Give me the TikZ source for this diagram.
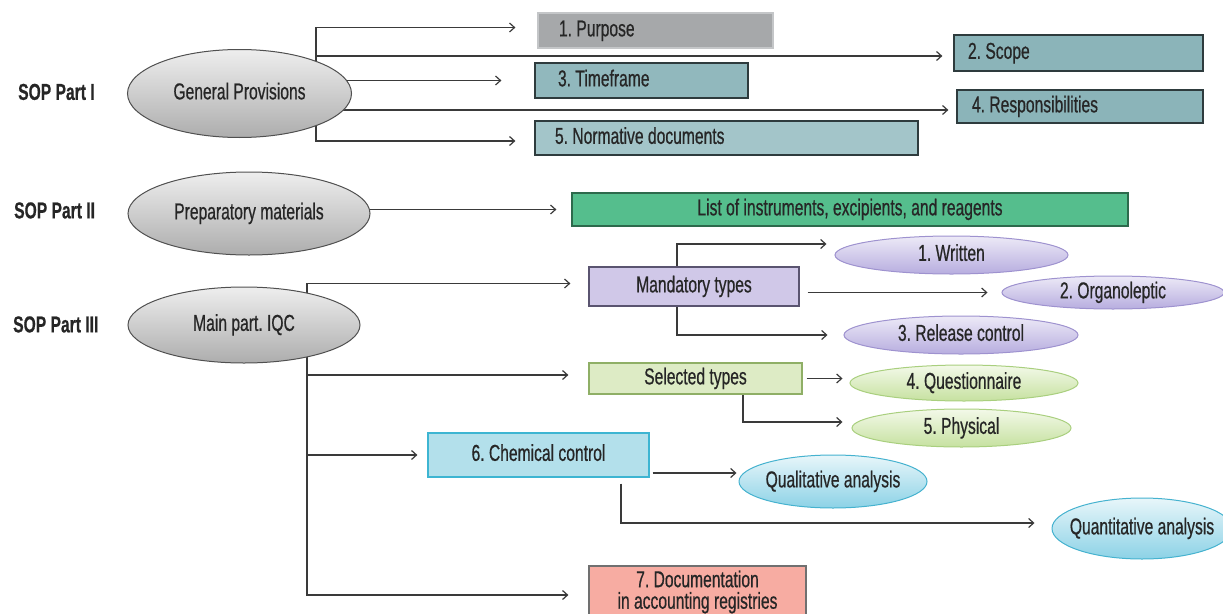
\documentclass[tikz,border=0pt]{standalone}
\usepackage{fontspec}
\setmainfont[FakeStretch=0.68,FakeBold=0.6]{Liberation Sans}
\usetikzlibrary{arrows.meta,backgrounds,shapes.geometric}
\definecolor{txt}{HTML}{262626}
\definecolor{ln}{HTML}{3A3A3A}
\definecolor{purpfill}{HTML}{A6A8AA}
\definecolor{purpdraw}{HTML}{C4C6C8}
\definecolor{tealfill}{HTML}{8BB4B9}
\definecolor{tealdraw}{HTML}{2E3B3D}
\definecolor{normfill}{HTML}{A3C5C9}
\definecolor{grnfill}{HTML}{55BE8D}
\definecolor{grndraw}{HTML}{2D6A4C}
\definecolor{mandfill}{HTML}{D0C8E8}
\definecolor{manddraw}{HTML}{5A5470}
\definecolor{selfill}{HTML}{DDEBC5}
\definecolor{seldraw}{HTML}{8FAF66}
\definecolor{chemfill}{HTML}{B3E0EB}
\definecolor{chemdraw}{HTML}{3DB5D2}
\definecolor{docfill}{HTML}{F7ACA2}
\definecolor{docdraw}{HTML}{707070}
\definecolor{purtop}{HTML}{EDEAF7}
\definecolor{purbot}{HTML}{B7ADDF}
\definecolor{purdraw}{HTML}{9E92CF}
\definecolor{gretop}{HTML}{F3F9E9}
\definecolor{grebot}{HTML}{C6E1A0}
\definecolor{gredraw}{HTML}{A9CF7E}
\definecolor{cyatop}{HTML}{E8F6FA}
\definecolor{cyabot}{HTML}{8CD2E6}
\definecolor{cyadraw}{HTML}{45B2CF}
\definecolor{gratop}{HTML}{EEEEEE}
\definecolor{grabot}{HTML}{ADADAD}
\definecolor{gradraw}{HTML}{505050}
\frenchspacing
\newcommand{\lftxt}[2]{\makebox[#1][l]{#2}}
\begin{document}
\begin{tikzpicture}[x=1pt,y=-1pt,
  base/.style={inner sep=0pt, text=txt, font=\fontsize{23}{24}\selectfont},
  sl/.style={base, text height=16.5pt, text depth=4.8pt},
  lbl/.style={sl, font=\fontsize{23}{24}\selectfont\bfseries, anchor=west},
  lbox/.style={sl, rectangle, line width=1.2pt},
  cbox/.style={sl, rectangle, line width=1.2pt, align=center},
  tealbox/.style={lbox, fill=tealfill, draw=tealdraw},
  ell/.style={sl, ellipse, line width=1pt},
  grayell/.style={ell, top color=gratop, bottom color=grabot, draw=gradraw},
  purell/.style={ell, top color=purtop, bottom color=purbot, draw=purdraw},
  greell/.style={ell, top color=gretop, bottom color=grebot, draw=gredraw},
  cyaell/.style={ell, top color=cyatop, bottom color=cyabot, draw=cyadraw},
  arr/.style={draw=ln, line width=1.2pt, -{Straight Barb[length=5pt,width=9pt]}}
]
\useasboundingbox (0,0) rectangle (1223,613);

% Left labels
\node[lbl] (l1) at (18,94) {SOP Part I};
\node[lbl] (l2) at (14,212.5) {SOP Part II};
\node[lbl] (l3) at (13,326.5) {SOP Part III};

% Part I
\node[grayell, minimum width=224pt, minimum height=88pt] (gp) at (239.5,93.5) {General Provisions};
\node[lbox, fill=purpfill, draw=purpdraw, inner xsep=21pt, minimum height=35pt] (purpose) at (655.5,30.5) {\lftxt{193pt}{1. Purpose}};
\node[tealbox, inner xsep=14pt, minimum height=36pt] (scope) at (1078.5,53) {\lftxt{221pt}{2. Scope}};
\node[tealbox, fill=tealfill!95!white, inner xsep=23pt, minimum height=35pt] (time) at (641.5,80.5) {\lftxt{167pt}{3. Timeframe}};
\node[tealbox, inner xsep=15pt, minimum height=33pt] (resp) at (1080,106.5) {\lftxt{216pt}{4. Responsibilities}};
\node[tealbox, fill=normfill, inner xsep=20pt, minimum height=34pt] (norm) at (726.5,138) {\lftxt{343pt}{5. Normative documents}};

% Part II
\node[grayell, minimum width=242pt, minimum height=83pt] (prep) at (249,213.5) {Preparatory materials};
\node[cbox, fill=grnfill, draw=grndraw, minimum width=556pt, minimum height=33pt] (list) at (850,209.5) {List of instruments, excipients, and reagents};

% Part III
\node[grayell, minimum width=232pt, minimum height=76pt] (main) at (244,325) {Main part. IQC};
\node[cbox, fill=mandfill, draw=manddraw, minimum width=210pt, minimum height=39pt] (mand) at (694,286.5) {Mandatory types};
\node[purell, minimum width=233pt, minimum height=38pt] (writ) at (951.5,255) {1. Written};
\node[purell, minimum width=222pt, minimum height=33pt] (organo) at (1113,292.5) {2. Organoleptic};
\node[purell, minimum width=234pt, minimum height=38pt] (rel) at (961,335) {3. Release control};
\node[cbox, fill=selfill, draw=seldraw, minimum width=213pt, minimum height=31pt] (sel) at (695.5,378.5) {Selected types};
\node[greell, minimum width=228pt, minimum height=36pt] (quest) at (964,383) {4. Questionnaire};
\node[greell, minimum width=219pt, minimum height=38pt] (phys) at (961.5,428) {5. Physical};
\node[cbox, fill=chemfill, draw=chemdraw, minimum width=221pt, minimum height=44pt] (chem) at (538.5,455) {6. Chemical control};
\node[cyaell, minimum width=188pt, minimum height=53pt] (qual) at (833,481.5) {\makebox[0pt]{Qualitative analysis}};
\node[cyaell, minimum width=180pt, minimum height=61pt] (quant) at (1142,528.5) {\makebox[0pt]{Quantitative analysis}};
\node[base, rectangle, line width=1.2pt, fill=docfill, draw=docdraw, align=center, font=\fontsize{23}{21.5}\selectfont, minimum width=217pt, minimum height=52pt] (doc) at (697.5,592) {7. Documentation\\in accounting registries};

\coordinate (j1) at (316,93.5);
\coordinate (j3) at (307,325);

\begin{scope}[on background layer]
  % Part I
  \draw[arr, shorten >=22pt] (j1) |- ([yshift=3pt]purpose.west);
  \draw[arr, shorten >=11pt] (j1) |- ([yshift=-3pt]scope.west);
  \draw[arr, shorten >=33pt] (gp.center |- time.west) -- (time.west);
  \draw[arr, shorten >=8pt] ([yshift=-3.5pt]gp.center |- resp.west) -- ([yshift=-3.5pt]resp.west);
  \draw[arr, shorten >=19pt] (j1) |- ([yshift=-3pt]norm.west);
  % Part II
  \draw[arr, shorten >=15pt] (prep.center |- list.west) -- (list.west);
  % Part III
  \draw[arr, shorten >=18pt] (j3) |- ([yshift=3pt]mand.west);
  \draw[arr, shorten >=20pt] (j3) |- ([yshift=3.5pt]sel.west);
  \draw[arr, shorten >=10pt] (j3) |- (chem.west);
  \draw[arr, shorten >=20pt] (j3) |- ([yshift=-3pt]doc.west);
  % Mandatory
  \draw[arr, shorten >=8pt] ([xshift=-17pt]mand.north) |- ([yshift=11pt]writ.west);
  \draw[arr, shorten <=8pt, shorten >=14pt] (mand.east |- organo.west) -- (organo.west);
  \draw[arr, shorten >=16pt] ([xshift=-17pt]mand.south) |- (rel.west);
  % Selected
  \draw[arr, shorten <=4pt, shorten >=7pt] (sel.east) -- (sel.east -| quest.west);
  \draw[arr, shorten >=9pt] ([xshift=47.5pt]sel.south) |- ([yshift=6pt]phys.west);
  % Chemical
  \draw[arr, shorten <=3pt, shorten >=2pt] ([yshift=-18pt]chem.east) -- ([yshift=-18pt]chem.east -| qual.west);
  \draw[arr, shorten <=6pt, shorten >=17pt] ([xshift=82.5pt]chem.south) |- ([yshift=5.5pt]quant.west);
\end{scope}
\end{tikzpicture}
\end{document}
